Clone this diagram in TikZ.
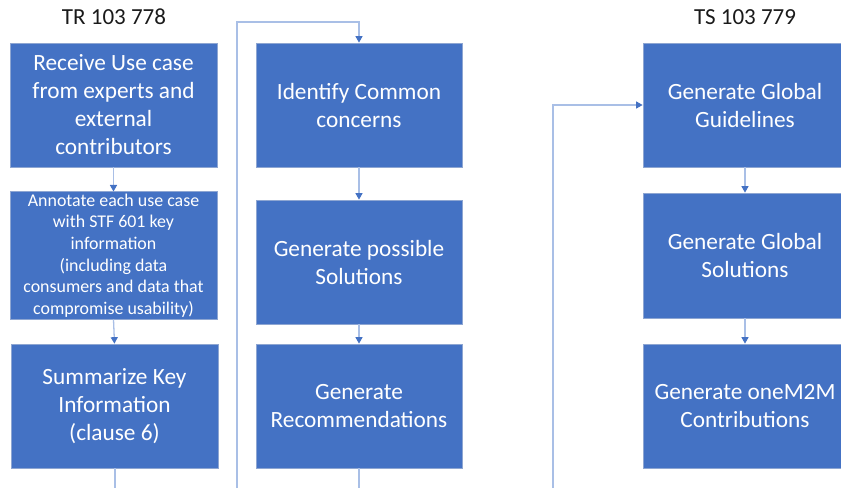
\documentclass[tikz,border=0pt]{standalone}
\usepackage{fontspec}
\setmainfont{Carlito}
\usetikzlibrary{arrows.meta}
\definecolor{boxblue}{HTML}{4472C4}
\definecolor{boxedge}{HTML}{8EA6D2}
\definecolor{connline}{HTML}{A9BFE6}
\definecolor{titlecol}{HTML}{1A1A1A}
\tikzset{
  stepbox/.style={rectangle, fill=boxblue, draw=boxedge, line width=0.7pt,
    text=white, align=center, inner sep=2pt,
    font=\fontsize{23.3}{28}\selectfont},
  smallbox/.style={stepbox, font=\fontsize{17.9}{21.6}\selectfont},
  conn/.style={draw=connline, line width=1.3pt},
  arr/.style={conn, -{Triangle[width=7pt,length=6.5pt,color=boxblue]}},
  titletext/.style={text=titlecol, font=\fontsize{23}{27}\selectfont, inner sep=0pt}
}
\begin{document}
\begin{tikzpicture}[x=1pt,y=-1pt]
\useasboundingbox (0,0) rectangle (841,488);
\clip (0,0) rectangle (841,488);
% titles
\node[titletext] (t1) at (114,17) {TR 103 778};
\node[titletext] (t2) at (745,17) {TS 103 779};
% left column
\node[stepbox, minimum width=207pt, minimum height=124pt] (r1) at (113.5,105) {Receive Use case\\from experts and\\external\\contributors};
\node[smallbox, minimum width=207pt, minimum height=125pt] (a2) at (113.5,255.5) {Annotate each use case\\with STF 601 key\\information\\(including data\\consumers and data that\\compromise usability)};
\node[stepbox, minimum width=207pt, minimum height=124pt] (s3) at (114.5,406) {Summarize Key\\Information\\(clause 6)};
% middle column
\node[stepbox, minimum width=206pt, minimum height=124pt] (m1) at (359,105) {Identify Common\\concerns};
\node[stepbox, minimum width=206pt, minimum height=124pt] (m2) at (359,262) {Generate possible\\Solutions};
\node[stepbox, minimum width=206pt, minimum height=124pt] (m3) at (359,406) {Generate\\Recommendations};
% right column
\node[stepbox, minimum width=204pt, minimum height=124pt] (g1) at (745,105) {Generate Global\\Guidelines};
\node[stepbox, minimum width=204pt, minimum height=125pt] (g2) at (745,255.5) {Generate Global\\Solutions};
\node[stepbox, minimum width=204pt, minimum height=124pt] (g3) at (745,406) {Generate oneM2M\\Contributions};
% free ends
\coordinate (e1) at (115,488);
\coordinate (e2) at (359,488);
\coordinate (lb) at (237,488);
\coordinate (ltop) at (237,22);
\coordinate (rb) at (553,488);
% connectors
\draw[arr] (r1.south) -- (a2.north);
\draw[arr] (a2.south) -- (s3.north);
\draw[conn] (s3.south -| e1) -- (e1);
\draw[arr] (lb) -- (ltop) -| (m1.north);
\draw[arr] (m1.south) -- (m2.north);
\draw[arr] (m2.south) -- (m3.north);
\draw[conn] (m3.south) -- (e2);
\draw[arr] (rb) |- (g1.west);
\draw[arr] (g1.south) -- (g2.north);
\draw[arr] (g2.south) -- (g3.north);
\end{tikzpicture}
\end{document}
